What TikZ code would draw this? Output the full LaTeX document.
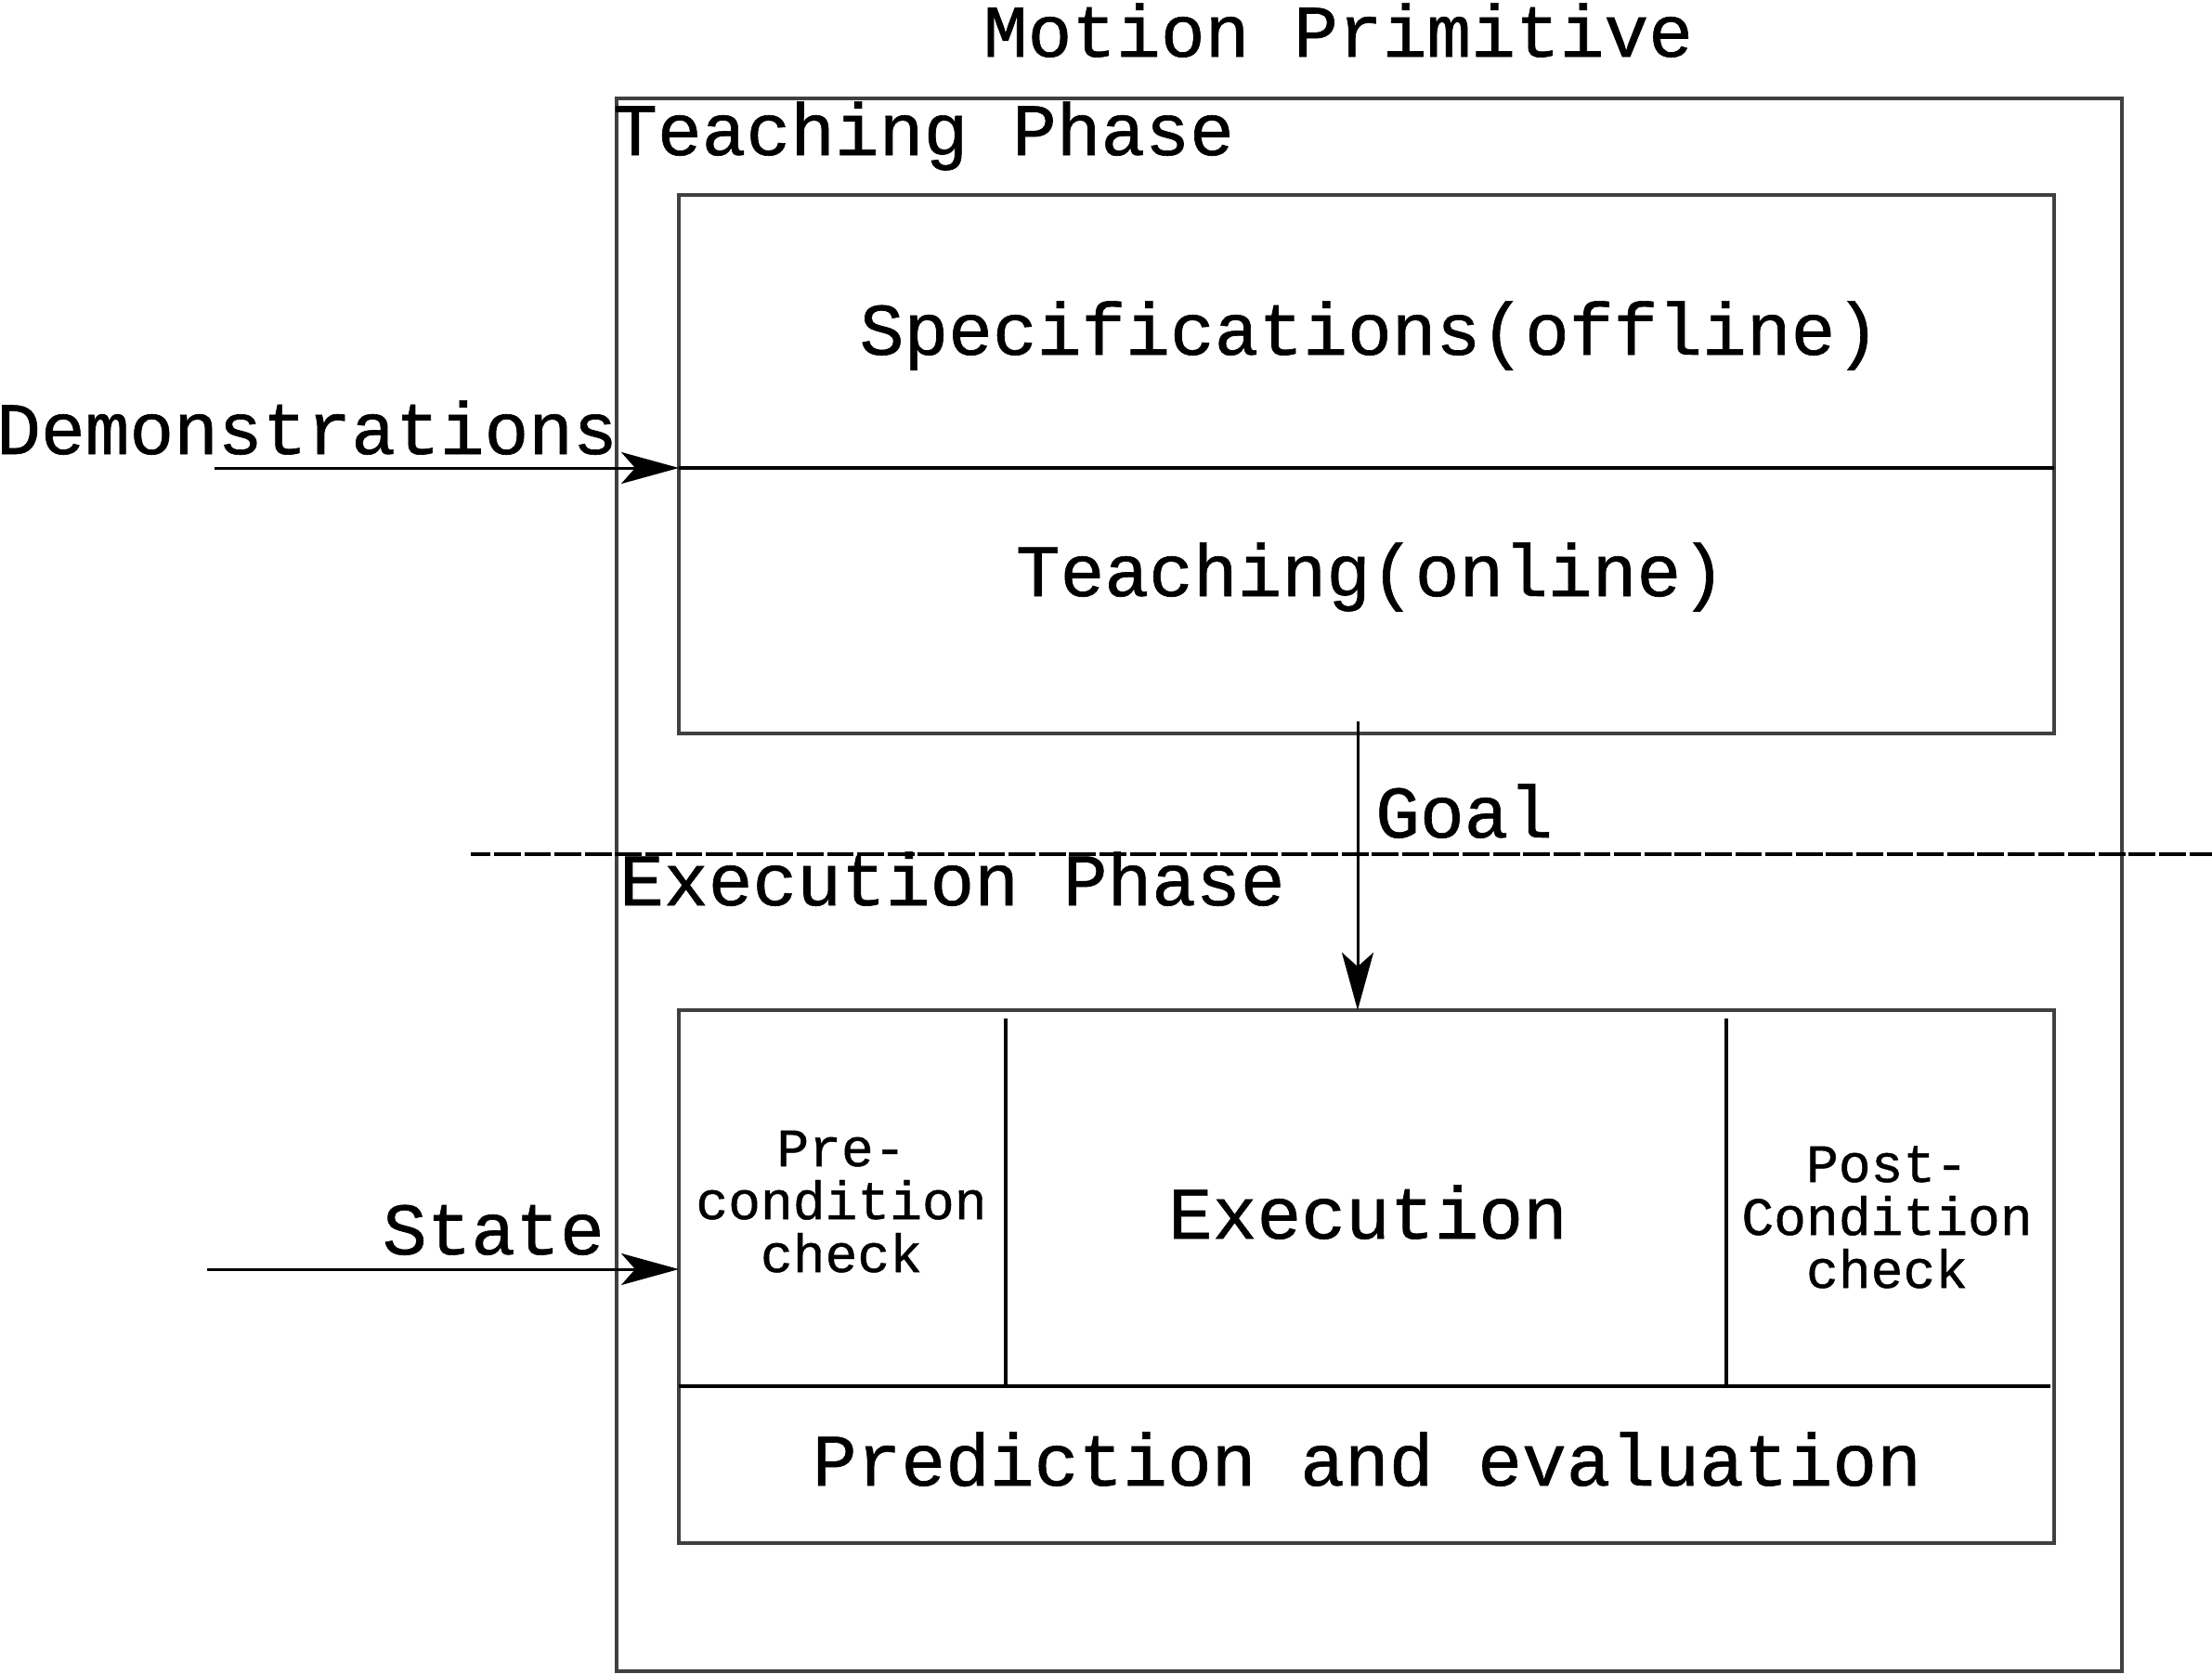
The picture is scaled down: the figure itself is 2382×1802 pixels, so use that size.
\documentclass[tikz,border=0pt]{standalone}
\usepackage{fontspec}
\newfontfamily\cour[FakeBold=0.8]{Liberation Mono}
\usetikzlibrary{arrows.meta}
\definecolor{boxgray}{HTML}{404040}
\begin{document}
\begin{tikzpicture}[x=1pt,y=-1pt,
  frame/.style={draw=boxgray, line width=3.6pt, inner sep=0pt, outer sep=0pt},
  sep/.style={draw=black, line width=3.3pt},
  arr/.style={draw=black, line width=3pt, -{Stealth[length=62pt,width=34pt,inset=15pt]}},
  dashline/.style={draw=black, line width=4pt, dash pattern=on 28.8pt off 3.8pt, dash phase=7.7pt},
  lbl/.style={inner sep=0pt, font=\cour\fontsize{79.6}{80}\selectfont},
  sml/.style={inner sep=0pt, align=center, font=\cour\fontsize{58}{57}\selectfont},
]
\useasboundingbox (0,0) rectangle (2382,1802);

% outer frame
\node[frame, minimum width=1621pt, minimum height=1694pt] (mp) at (1474.5,953) {};
\node[lbl, anchor=base] (title) at (1441,61) {Motion Primitive};
\node[lbl, anchor=base west] (tphase) at (660,167) {Teaching Phase};

% teaching box
\node[frame, minimum width=1481pt, minimum height=580pt] (tbox) at (1471.5,500) {};
\coordinate (divL) at (731,504);
\coordinate (divR) at (2212,504);
\draw[sep] (divL) -- (divR);
\node[lbl, anchor=base] (spec) at (1475,382) {Specifications(offline)};
\node[lbl, anchor=base] (teach) at (1476,642) {Teaching(online)};

% demonstrations input
\node[lbl, anchor=base west] (demo) at (-4,489) {Demonstrations};
\coordinate (dsrc) at (231,504);
\draw[arr] (dsrc) -- (divL);

% phase separator
\coordinate (dashL) at (507,920);
\coordinate (dashR) at (2382,920);
\draw[dashline] (dashL) -- (dashR);
\node[lbl, anchor=base west] (ephase) at (667,975) {Execution Phase};

% execution box
\node[frame, minimum width=1481pt, minimum height=574pt] (ebox) at (1471.5,1375) {};
\coordinate (hL) at (731,1493);
\coordinate (hR) at (2208,1493);
\draw[sep] (hL) -- (hR);
\coordinate (v1t) at (1083,1097);
\coordinate (v1b) at (1083,1493);
\coordinate (v2t) at (1859,1097);
\coordinate (v2b) at (1859,1493);
\draw[sep] (v1t) -- (v1b);
\draw[sep] (v2t) -- (v2b);
\node[sml, anchor=base] (pre) at (906,1370) {Pre-\\condition\\check};
\node[lbl, anchor=base] (exec) at (1473,1334) {Execution};
\node[sml, anchor=base] (post) at (2032,1387) {Post-\\Condition\\check};
\node[lbl, anchor=base] (pred) at (1472,1600) {Prediction and evaluation};

% goal arrow
\coordinate (gsrc) at (1462,777);
\draw[arr] (gsrc) -- (gsrc |- ebox.north);
\node[lbl, anchor=base west] (goal) at (1481,902) {Goal};

% state input
\node[lbl, anchor=base east] (state) at (651,1351) {State};
\coordinate (ssrc) at (223,1367);
\coordinate (sdst) at (731,1367);
\draw[arr] (ssrc) -- (sdst);
\end{tikzpicture}
\end{document}
